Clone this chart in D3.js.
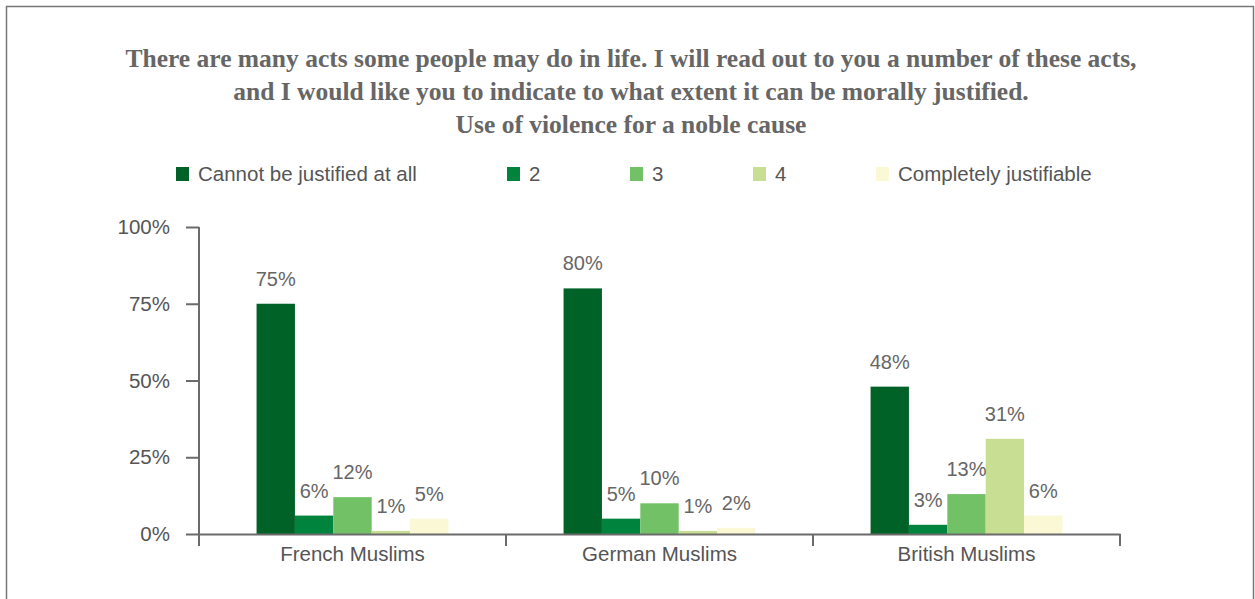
<!DOCTYPE html>
<html>
<head>
<meta charset="utf-8">
<script src="https://cdn.jsdelivr.net/npm/d3@7"></script>
<style>
  body { margin: 0; background: #fff; }
  svg { display: block; }
</style>
</head>
<body>
<div id="chart"></div>
<script>
// data
var categories = ["French Muslims", "German Muslims", "British Muslims"]
var seriesNames = ["Cannot be justified at all", "2", "3", "4", "Completely justifiable"]
var seriesColors = ["#006227", "#00843d", "#72c167", "#c8de92", "#fbf8d6"]
var values = [
  [75, 6, 12, 1, 5],
  [80, 5, 10, 1, 2],
  [48, 3, 13, 31, 6]
]
var yTicks = [0, 25, 50, 75, 100]
var titleLines = [
  "There are many acts some people may do in life. I will read out to you a number of these acts,",
  "and I would like you to indicate to what extent it can be morally justified.",
  "Use of violence for a noble cause"
]

var width = 1255, height = 599
var margin = {top: 227, left: 199, right: 135, bottom: 65}
var fontSans = "'Liberation Sans', Arial, sans-serif"

var svg = d3.select("#chart").append("svg")
  .attr("width", width)
  .attr("height", height)

// frame
svg.append("path")
  .attr("d", "M6.5,610 L6.5,6.5 L1253.5,6.5 L1253.5,610")
  .attr("fill", "none")
  .attr("stroke", "#777")
  .attr("stroke-width", 1.5)

// title
svg.append("g").selectAll("text")
  .data(titleLines)
  .enter().append("text")
  .attr("x", 631)
  .attr("y", function(d, i) { return 67 + i * 33 })
  .attr("text-anchor", "middle")
  .attr("font-family", "'Liberation Serif', serif")
  .attr("font-weight", "bold")
  .attr("font-size", 25.5)
  .attr("fill", "#666")
  .text(function(d) { return d })

// legend (item positions as in the original layout)
var legendX = [176, 507, 630, 753, 876]
var legend = svg.append("g").selectAll("g")
  .data(seriesNames)
  .enter().append("g")
  .attr("transform", function(d, i) { return "translate(" + legendX[i] + ",167)" })

legend.append("rect")
  .attr("width", 13)
  .attr("height", 14)
  .attr("fill", function(d, i) { return seriesColors[i] })

legend.append("text")
  .attr("x", 22)
  .attr("y", 14)
  .attr("font-family", fontSans)
  .attr("font-size", 20.5)
  .attr("fill", "#555")
  .text(function(d) { return d })

var x0 = d3.scaleBand()
  .domain(categories)
  .range([margin.left, width - margin.right])

var x1 = d3.scaleBand()
  .domain(d3.range(seriesNames.length))
  .range([0, x0.bandwidth()])
  .paddingOuter(1.5)

var y = d3.scaleLinear()
  .domain([0, 100])
  .range([height - margin.bottom, margin.top])

var axisColor = "#6b6b6b"

// bars
var groups = svg.append("g").selectAll("g")
  .data(values)
  .enter().append("g")
  .attr("transform", function(d, i) { return "translate(" + x0(categories[i]) + ",0)" })

groups.selectAll("rect")
  .data(function(d) { return d })
  .enter().append("rect")
  .attr("x", function(d, i) { return x1(i) })
  .attr("y", function(d) { return y(d) })
  .attr("width", x1.bandwidth())
  .attr("height", function(d) { return y(0) - y(d) })
  .attr("fill", function(d, i) { return seriesColors[i] })

groups.selectAll("text")
  .data(function(d) { return d })
  .enter().append("text")
  .attr("x", function(d, i) { return x1(i) + x1.bandwidth() / 2 })
  .attr("y", function(d) { return y(d) - 18 })
  .attr("text-anchor", "middle")
  .attr("font-family", fontSans)
  .attr("font-size", 20)
  .attr("fill", "#666")
  .text(function(d) { return d + "%" })

// y axis
var yAxis = svg.append("g")
  .attr("transform", "translate(" + margin.left + ",0)")
  .call(d3.axisLeft(y).tickValues(yTicks).tickSize(13).tickPadding(16)
    .tickFormat(function(d) { return d + "%" }))

// x axis
var xAxis = svg.append("g")
  .attr("transform", "translate(0," + y(0) + ")")
  .call(d3.axisBottom(x0).tickSize(0).tickPadding(12))

xAxis.selectAll(".tick line").remove()

var bounds = categories.map(function(c) { return x0(c) })
bounds.push(x0(categories[categories.length - 1]) + x0.bandwidth())
svg.append("g").selectAll("line")
  .data(bounds)
  .enter().append("line")
  .attr("x1", function(d) { return d })
  .attr("x2", function(d) { return d })
  .attr("y1", y(0))
  .attr("y2", y(0) + 12)
  .attr("stroke", axisColor)
  .attr("stroke-width", 2)

svg.selectAll(".domain")
  .attr("stroke", axisColor)
  .attr("stroke-width", 2)
yAxis.select(".domain").attr("d", "M0," + y(100) + "V" + (y(0) + 12))
yAxis.selectAll(".tick line").attr("stroke", axisColor).attr("stroke-width", 2)
svg.selectAll(".tick text")
  .attr("font-family", fontSans)
  .attr("font-size", 20.5)
  .attr("fill", "#555")
</script>
</body>
</html>
